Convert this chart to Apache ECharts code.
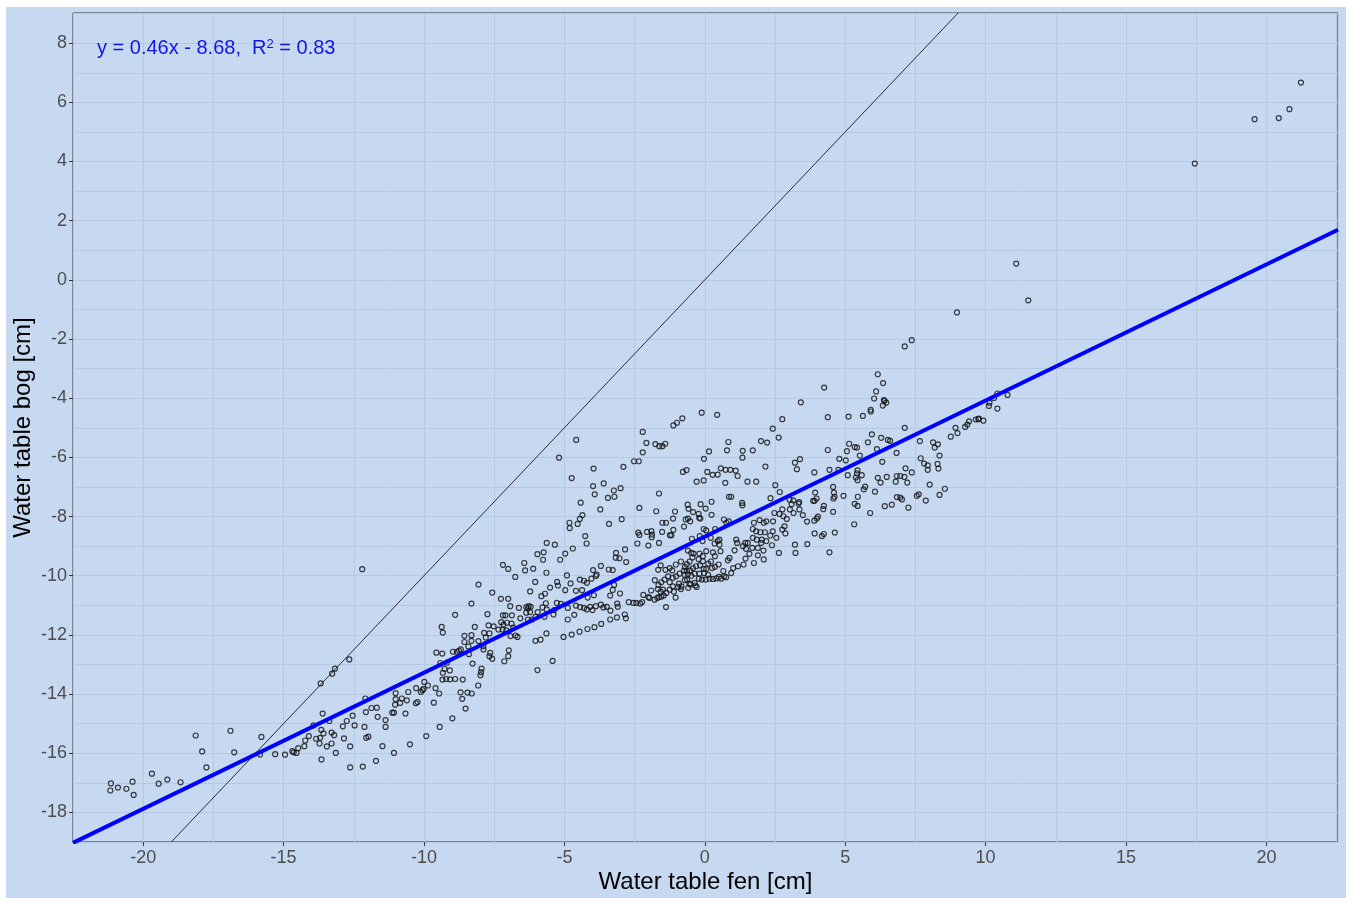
<!DOCTYPE html>
<html lang="en" style="height: 100%">
<head>
  <meta charset="utf-8">
</head>
<body style="height: 100%; margin: 0; background: #ffffff">
  <div id="container" style="position: absolute; left: 6px; top: 7px; width: 1340px; height: 891px; background: #c6d9f0"></div>

  <script type="text/javascript" src="https://cdn.jsdelivr.net/npm/echarts@6/dist/echarts.min.js"></script>
  <script type="text/javascript">
// axis ranges and tick labels
var xRange = [-22.5, 22.55];
var yRange = [-19, 9.02];
var xTicks = [-20, -15, -10, -5, 0, 5, 10, 15, 20];
var yTicks = [-18, -16, -14, -12, -10, -8, -6, -4, -2, 0, 2, 4, 6, 8];

// linear fit shown in the corner label
var fitSlope = 0.46;
var fitIntercept = -8.68;
var fitR2 = 0.83;

// water table pairs [fen, bog] in cm
var tailPts = [
  [-21.15,-17.02],[-21.17,-17.26],[-20.9,-17.16],[-20.6,-17.2],[-20.38,-16.96],[-20.34,-17.41],
  [-19.69,-16.69],[-19.45,-17.03],[-19.14,-16.89],[-18.67,-16.98],[-18.13,-15.4],[-17.9,-15.94],
  [-17.75,-16.48],[-16.89,-15.24],[-16.76,-15.97],[-15.79,-15.45],[-15.84,-16.04],[-15.3,-16.03],
  [-14.95,-16.05],[-12.2,-9.78],[-13.68,-13.64],[-13.27,-13.31],[-13.17,-13.14],[-12.66,-12.83]
];

var lowPts = [
  [-14.69,-15.93],[-14.64,-15.97],[-14.54,-15.99],[-14.48,-15.83],[-14.26,-15.76],[-14.23,-15.57],
  [-14.10,-15.42],[-13.93,-15.06],[-13.84,-15.51],[-13.72,-15.67],[-13.70,-15.48],[-13.66,-15.21],
  [-13.65,-16.21],[-13.61,-14.66],[-13.58,-15.33],[-13.46,-15.77],[-13.37,-14.91],[-13.29,-15.67],
  [-13.29,-15.30],[-13.20,-15.39],[-13.14,-15.99],[-12.89,-15.09],[-12.85,-15.50],[-12.75,-14.91],
  [-12.63,-15.77],[-12.63,-16.48],[-12.54,-14.73],[-12.47,-15.06],[-12.12,-15.11],[-12.18,-16.45],
  [-12.09,-14.15],[-12.07,-14.61],[-12.06,-15.48],[-11.98,-15.44],[-11.87,-14.47],[-11.71,-16.26],
  [-11.68,-14.46],[-11.65,-14.77],[-11.48,-15.76],[-11.37,-14.88],[-11.37,-15.11],[-11.13,-14.63],
  [-11.07,-14.63],[-11.07,-15.99],[-11.03,-14.36],[-11.01,-14.17],[-11.01,-13.97],[-10.85,-14.30],
  [-10.79,-14.15],[-10.66,-14.66],[-10.61,-14.21],[-10.56,-13.93],[-10.50,-15.70],[-10.29,-14.31],
  [-10.28,-13.80],[-10.23,-14.27],[-10.11,-13.93],[-10.05,-13.87],[-10.01,-13.82],[-9.99,-13.59],
  [-9.92,-15.42],[-9.86,-13.71],[-9.65,-14.29],[-9.59,-13.80],[-9.56,-12.60],[-9.46,-13.98],
  [-9.44,-15.11],[-9.42,-12.95],[-9.35,-12.63],[-9.34,-13.51],[-9.33,-13.28],[-9.27,-13.15],
  [-9.21,-13.49],[-9.18,-12.94],[-9.08,-13.20],[-9.07,-13.50],[-8.99,-14.82],[-8.97,-12.57],
  [-8.89,-11.32],[-8.89,-13.49],[-8.83,-12.57],[-8.75,-12.54],[-8.70,-13.94],[-8.69,-12.49],
  [-8.62,-13.51],[-8.64,-14.16],[-8.56,-12.03],[-8.56,-12.24],[-8.52,-14.49],[-8.45,-13.95],
  [-8.42,-12.39],[-8.40,-12.65],[-8.31,-12.20],[-8.31,-12.01],[-8.30,-13.98],[-8.27,-12.97],
  [-8.31,-10.94],[-8.06,-12.21],[-8.07,-13.71],[-9.37,-11.73],[-9.33,-11.92]
];

var midPts = [
  [-4.97,-9.25],[-5.96,-9.27],[-5.74,-9.21],[-3.16,-9.23],[-3.17,-9.39],[-3.04,-9.41],[-2.80,-9.54],
  [-7.19,-9.63],[-7.00,-9.77],[-6.43,-9.57],[-6.40,-9.82],[-6.11,-9.76],[-5.76,-9.46],[-5.15,-9.46],
  [-5.64,-9.90],[-3.70,-9.67],[-3.98,-9.81],[-3.42,-9.79],[-3.28,-9.81],[-6.75,-10.04],[-6.04,-10.21],
  [-5.26,-10.21],[-5.23,-10.33],[-4.91,-9.99],[-4.78,-10.26],[-4.45,-10.13],[-4.30,-10.17],[-4.20,-10.24],
  [-4.04,-10.10],[-3.88,-10.01],[-3.85,-9.96],[-8.06,-10.30],[-7.57,-10.57],[-6.22,-10.53],[-5.82,-10.69],
  [-5.69,-10.61],[-5.51,-10.40],[-4.97,-10.49],[-4.59,-10.51],[-4.37,-10.49],[-3.23,-10.31],[-3.28,-10.48],
  [-3.02,-10.60],[-3.37,-10.67],[-3.95,-10.66],[-4.17,-10.74],[-7.26,-10.78],[-7.00,-10.78],[-6.93,-11.03],
  [-6.62,-11.09],[-6.36,-11.06],[-6.30,-11.10],[-6.27,-11.03],[-6.20,-11.05],[-6.36,-11.25],[-6.22,-11.23],
  [-5.95,-11.23],[-5.78,-11.07],[-5.66,-10.93],[-5.63,-11.14],[-5.27,-10.92],[-5.12,-10.95],[-4.88,-11.09],
  [-4.59,-11.01],[-4.44,-11.06],[-4.30,-11.09],[-4.20,-11.14],[-4.08,-11.05],[-4.00,-11.16],[-3.88,-11.03],
  [-3.70,-10.98],[-3.61,-11.07],[-3.49,-11.05],[-3.36,-11.18],[-3.12,-10.94],[-3.10,-11.05],[-2.71,-10.89],
  [-2.85,-11.31],[-2.81,-11.44],[-3.13,-11.41],[-3.37,-11.48],[-3.69,-11.63],[-3.93,-11.74],[-4.18,-11.80],
  [-4.46,-11.89],[-4.74,-11.99],[-5.03,-12.07],[-4.88,-11.48],[-4.65,-11.32],[-6.03,-11.39],[-5.36,-11.16],
  [-5.39,-11.31],[-5.71,-11.39],[-6.16,-11.48],[-6.30,-11.48],[-6.57,-11.44],[-6.87,-11.34],[-7.10,-11.34],
  [-7.19,-11.34],[-7.25,-11.57],[-7.17,-11.65],[-7.05,-11.59],[-6.88,-11.62],[-6.82,-11.75],[-6.74,-12.02],
  [-6.67,-12.07],[-6.92,-12.04],[-7.07,-11.85],[-7.20,-11.82],[-7.70,-11.68],[-7.52,-11.71],[-7.35,-11.82],
  [-7.86,-11.93],[-7.80,-12.09],[-7.67,-11.95],[-7.74,-11.30],[-8.19,-11.73],[-5.64,-11.95],[-5.85,-12.16],
  [-6.03,-12.20],[-6.98,-12.52],[-7.00,-12.72],[-7.14,-12.89],[-7.57,-12.81],[-7.67,-12.72],[-7.64,-12.61],
  [-7.88,-12.49],[-7.89,-12.38],[-5.42,-12.88],[-5.96,-13.19],[-7.95,-13.14],[-7.97,-13.26],[-7.99,-13.36]
];

var upperPts = [
  [-5.19,-6.01],[-4.58,-5.41],[-4.74,-6.70],[-3.96,-6.38],[-3.98,-6.97],[-3.92,-7.25],[-3.60,-6.88],
  [-3.45,-7.37],[-3.24,-7.12],[-3.22,-7.33],[-3.00,-7.04],[-2.90,-6.32],[-4.42,-7.53],[-3.72,-7.76],
  [-4.36,-7.95],[-4.45,-8.08],[-4.53,-8.25],[-4.82,-8.21],[-4.81,-8.39],[-4.26,-8.66],[-4.21,-8.91],
  [-5.63,-8.89],[-5.34,-8.95],[-4.70,-9.08],[-3.41,-8.25],[-2.96,-8.09],[-2.52,-6.13],[-2.35,-6.13],
  [-2.21,-5.14],[-2.08,-5.51],[-2.21,-5.83],[-1.76,-5.55],[-1.62,-5.62],[-1.51,-5.62],[-1.41,-5.54],
  [-1.12,-4.92],[-0.99,-4.83],[-0.80,-4.68],[-0.11,-4.49],[0.44,-4.56],[0.15,-5.80],[-0.03,-6.05],
  [-0.78,-6.49],[-0.65,-6.43],[-0.29,-6.82],[-0.04,-6.78],[0.09,-6.49],[0.28,-6.59],[0.46,-6.58],
  [-1.63,-7.22],[-2.33,-7.71],[-1.73,-7.82],[-1.06,-7.83],[-1.13,-8.07],[-0.61,-7.60],[-0.58,-7.74],
  [-0.42,-7.85],[-0.15,-7.58],[0.03,-7.73],[0.24,-7.50],[-0.22,-7.91],[0.24,-7.94],[-0.68,-8.10],
  [-0.60,-8.07],[-0.52,-8.16],[-0.20,-8.04],[-0.16,-8.07],[-0.74,-8.34],[-1.12,-8.45],[-1.51,-8.21],
  [-1.38,-8.21],[-1.52,-8.52],[-2.06,-8.52],[-1.90,-8.49],[-1.88,-8.61],[-1.89,-8.70],[-2.37,-8.54],
  [-2.33,-8.62],[-1.24,-8.63],[-1.19,-8.63],[-1.63,-8.89],[-2.01,-8.98],[-2.40,-8.91],[-2.84,-9.11],
  [-0.46,-8.75],[-0.18,-8.66],[-0.04,-8.42],[0.05,-8.47],[0.21,-8.72],[0.35,-8.91],[0.46,-8.83],
  [0.37,-8.42],[-0.08,-8.83]
];

var corePts = [
  [0.73,-6.86],[0.86,-7.33],[0.94,-7.33],[1.33,-7.54],[1.34,-7.62],[1.52,-6.82],[1.83,-6.82],[2.51,-6.94],
  [2.67,-7.17],[2.34,-7.38],[3.02,-7.43],[3.15,-7.45],[3.09,-7.58],[3.34,-7.56],[3.37,-7.76],[3.16,-7.88],
  [3.03,-7.76],[2.76,-7.76],[2.66,-7.91],[2.80,-7.99],[2.92,-8.08],[2.48,-7.88],[2.43,-8.16],[2.19,-8.16],
  [2.10,-8.21],[1.95,-8.12],[1.75,-8.21],[1.71,-8.42],[1.83,-8.50],[1.98,-8.53],[2.14,-8.53],[2.33,-8.64],
  [2.42,-8.50],[2.84,-8.33],[2.76,-8.44],[2.87,-8.57],[2.55,-8.72],[2.19,-8.83],[2.03,-8.78],[2.01,-8.89],
  [1.89,-9.06],[1.85,-8.78],[1.71,-8.72],[1.53,-8.89],[1.44,-8.89],[1.36,-9.00],[1.12,-8.78],[1.15,-8.89],
  [1.06,-9.14],[1.47,-9.09],[1.69,-9.06],[2.09,-9.15],[2.39,-8.97],[2.64,-9.23],[3.21,-8.95],[3.23,-9.23],
  [2.10,-9.45],[1.75,-9.57],[1.45,-9.42],[1.38,-9.62],[1.18,-9.68],[0.88,-9.40],[0.82,-9.48],[0.94,-9.91],
  [0.69,-10.02],[0.58,-10.10],[0.76,-10.05],[0.66,-9.84],[0.49,-9.62],[1.01,-9.74],[1.59,-9.26],[1.89,-9.31],
  [0.77,-8.21],[0.85,-8.16],[0.68,-8.10],[0.52,-8.78],[0.52,-8.95],[0.56,-9.17],
  [-0.60,-9.15],[-0.48,-9.23],[-0.40,-9.25],[-0.19,-9.25],[-0.07,-9.34],[0.05,-9.17],[0.29,-9.21],[0.36,-9.34],
  [0.22,-9.52],[0.12,-9.59],[-0.07,-9.51],[-0.22,-9.44],[-0.44,-9.38],[-0.54,-9.52],[-0.64,-9.61],[-0.71,-9.70],
  [-0.85,-9.52],[-1.03,-9.62],[-1.16,-9.82],[-1.25,-9.74],[-1.40,-9.80],[-1.57,-9.65],[-1.66,-9.80],[-0.74,-9.83],
  [-0.64,-9.83],[-0.53,-9.82],[-0.42,-9.74],[-0.31,-9.68],[-0.17,-9.65],[-0.04,-9.77],[0.05,-9.77],[0.26,-9.74],
  [0.36,-9.70],[0.12,-9.97],[-0.03,-9.91],[-0.19,-9.93],[-0.36,-9.93],[-0.48,-10.00],[-0.60,-9.95],[-0.72,-9.97],
  [-0.90,-9.93],[-1.02,-10.02],[-1.14,-10.07],[-1.31,-10.02],[-1.43,-10.13],[-1.55,-10.22],[-1.65,-10.31],[-1.78,-10.15],
  [-1.25,-10.22],[-1.14,-10.36],[-0.92,-10.27],[-0.83,-10.36],[-0.71,-10.15],[-0.63,-10.13],[-0.54,-10.27],[-0.36,-10.24],
  [-0.34,-10.33],[-0.51,-10.30],[-0.21,-10.10],[-0.10,-10.13],[0.03,-10.13],[0.17,-10.10],[0.29,-10.11],[0.41,-10.09],
  [0.50,-10.04],[-1.25,-10.47],[-1.37,-10.58],[-1.46,-10.67],[-1.55,-10.71],[-1.63,-10.72],[-1.69,-10.75],[-1.79,-10.81],
  [-1.49,-10.47],[-1.67,-10.45],[-1.57,-10.54],[-1.91,-10.50],[-2.01,-10.72],[-2.19,-10.65],[-2.30,-10.94],[-2.44,-10.92],
  [-2.54,-10.92],[-2.23,-10.89],[-1.97,-10.75],[-1.38,-11.06],[-0.95,-10.38],[-1.10,-10.54],[-1.04,-10.74],[-0.29,-10.38],
  [-0.59,-10.41],[-0.85,-10.45]
];

var rightPts = [
  [6.16,-3.19],[6.35,-3.49],[6.10,-3.77],[6.03,-4.01],[6.38,-4.06],[6.46,-4.15],[6.34,-4.25],[6.40,-4.09],
  [5.91,-4.39],[5.91,-4.45],[5.63,-4.60],[5.12,-4.62],[4.38,-4.64],[4.25,-3.64],[3.42,-4.14],[2.76,-4.71],
  [2.63,-5.33],[7.12,-5.00],[5.95,-5.22],[6.28,-5.34],[6.52,-5.41],[6.60,-5.44],[5.81,-5.49],[5.14,-5.54],
  [5.34,-5.65],[5.42,-5.67],[5.06,-5.79],[5.52,-5.94],[6.13,-5.72],[6.83,-5.85],[4.38,-5.75],[7.66,-5.45],
  [8.13,-5.49],[8.30,-5.56],[8.19,-5.67],[8.36,-5.94],[8.76,-5.30],[9.00,-5.18],[8.93,-5.00],[9.27,-4.97],
  [9.35,-4.89],[9.41,-4.78],[9.65,-4.72],[9.74,-4.71],[7.69,-6.03],[7.81,-6.21],[7.94,-6.27],[8.29,-6.22],
  [8.32,-6.38],[7.94,-6.42],[7.15,-6.37],[7.37,-6.51],[7.21,-6.85],[6.96,-6.63],[6.84,-6.63],[6.80,-6.82],
  [7.11,-6.66],[6.48,-6.66],[6.16,-6.69],[6.26,-6.85],[6.32,-6.15],[5.44,-6.44],[5.42,-6.54],[5.38,-6.68],
  [5.59,-6.60],[5.44,-6.77],[5.09,-6.60],[5.02,-6.10],[4.79,-6.05],[4.76,-6.42],[4.44,-6.42],[3.90,-6.51],
  [3.21,-6.18],[3.39,-6.06],[3.28,-6.40],[4.57,-7.00],[4.60,-7.19],[4.62,-7.33],[4.58,-7.39],[4.94,-7.30],
  [5.45,-7.33],[5.71,-6.99],[5.66,-7.08],[6.06,-7.16],[5.44,-7.64],[5.34,-7.57],[6.41,-7.65],[6.66,-7.60],
  [6.84,-7.34],[6.96,-7.36],[7.02,-7.42],[7.25,-7.70],[7.55,-7.30],[7.62,-7.25],[7.87,-7.46],[8.01,-6.92],
  [8.36,-7.27],[8.55,-7.06],[5.89,-7.88],[5.32,-8.26],[4.57,-7.84],[4.24,-7.64],[4.22,-7.75],[3.93,-7.19],
  [3.86,-7.47],[3.91,-7.47],[3.98,-7.39],[4.24,-8.59],[3.91,-8.57],[4.17,-8.66],[4.63,-8.54],[3.49,-7.95],
  [3.64,-8.17],[3.90,-8.14],[3.99,-8.07],[4.03,-8.00],[3.36,-7.51],[0.84,-5.48],[0.79,-5.76],[1.35,-5.78],
  [1.71,-5.76],[2.00,-5.45],[2.22,-5.50],[2.42,-5.03],[2.16,-6.31],[1.34,-6.01],[0.74,-6.42],[0.91,-6.42],
  [0.57,-6.37],[1.10,-6.45],[1.17,-6.63],[4.44,-9.21],[3.65,-8.93]
];

var farPts = [
  [21.23,6.67],[20.82,5.77],[20.44,5.47],[19.58,5.43],[17.45,3.93],[11.09,0.55],[11.52,-0.69],[8.98,-1.10],
  [10.78,-3.89],[10.42,-3.84],[10.30,-3.99],[10.14,-4.15],[10.12,-4.26],[10.42,-4.35],[9.92,-4.76],[9.76,-4.69],
  [7.12,-2.25],[7.37,-2.04]
];

var points = [].concat(tailPts, lowPts, midPts, upperPts, corePts, rightPts, farPts);

var fitLine = xRange.map(function (x) { return [x, fitSlope * x + fitIntercept]; });
var oneToOne = [[yRange[0], yRange[0]], [yRange[1], yRange[1]]];

var dom = document.getElementById('container');
var myChart = echarts.init(dom, null, { renderer: 'canvas' });

var fontFamily = '"Liberation Sans", Arial, sans-serif';
var gridColor = '#b6c9e3';

var option = {
  animation: false,
  grid: {
    show: true,
    left: 67,
    top: 6,
    width: 1265,
    height: 829,
    containLabel: false,
    outerBoundsMode: 'none',
    borderColor: '#333333',
    borderWidth: 1,
    backgroundColor: 'transparent'
  },
  xAxis: [
    {
      type: 'value',
      min: xRange[0],
      max: xRange[1],
      position: 'bottom',
      name: 'Water table fen [cm]',
      nameLocation: 'middle',
      nameGap: 28,
      nameMoveOverlap: false,
      nameTextStyle: { fontSize: 24, color: '#000', fontFamily: fontFamily },
      axisLine: { show: false, onZero: false },
      axisTick: { show: true, customValues: xTicks, length: 4, lineStyle: { color: '#333' } },
      axisLabel: { customValues: xTicks, fontSize: 18, color: '#4d4d4d', margin: 7, fontFamily: fontFamily },
      splitLine: { show: false }
    },
    {
      type: 'value',
      min: xRange[0],
      max: xRange[1],
      interval: 2.5,
      axisLine: { show: false, onZero: false },
      axisTick: { show: false },
      axisLabel: { show: false },
      splitLine: { show: true, lineStyle: { color: gridColor, width: 1 } }
    }
  ],
  yAxis: [
    {
      type: 'value',
      min: yRange[0],
      max: yRange[1],
      position: 'left',
      name: 'Water table bog [cm]',
      nameLocation: 'middle',
      nameGap: 38,
      nameMoveOverlap: false,
      nameTextStyle: { fontSize: 24, color: '#000', fontFamily: fontFamily },
      axisLine: { show: false, onZero: false },
      axisTick: { show: true, customValues: yTicks, length: 4, lineStyle: { color: '#333' } },
      axisLabel: { customValues: yTicks, fontSize: 18, color: '#4d4d4d', margin: 6, fontFamily: fontFamily },
      splitLine: { show: false }
    },
    {
      type: 'value',
      min: yRange[0],
      max: yRange[1],
      interval: 1,
      axisLine: { show: false, onZero: false },
      axisTick: { show: false },
      axisLabel: { show: false },
      splitLine: { show: true, lineStyle: { color: gridColor, width: 1 } }
    }
  ],
  graphic: [
    {
      type: 'text',
      left: 91,
      top: 31,
      z: 10,
      style: {
        text: '{a|y = ' + fitSlope.toFixed(2) + 'x - ' + Math.abs(fitIntercept).toFixed(2) + ',  R}{s|2}{a| = ' + fitR2.toFixed(2) + '}',
        rich: {
          a: { fontSize: 20, fill: '#1414e6', fontFamily: fontFamily, verticalAlign: 'bottom' },
          s: { fontSize: 13, fill: '#1414e6', fontFamily: fontFamily, verticalAlign: 'top' }
        }
      }
    }
  ],
  series: [
    {
      type: 'scatter',
      xAxisIndex: 0,
      yAxisIndex: 0,
      data: points,
      symbol: 'circle',
      symbolSize: 5,
      itemStyle: { color: 'rgba(0,0,0,0)', borderColor: '#111', borderWidth: 1.2 },
      z: 2
    },
    {
      type: 'line',
      xAxisIndex: 0,
      yAxisIndex: 0,
      data: oneToOne,
      showSymbol: false,
      lineStyle: { color: '#000', width: 0.8 },
      z: 3
    },
    {
      type: 'line',
      xAxisIndex: 0,
      yAxisIndex: 0,
      data: fitLine,
      showSymbol: false,
      lineStyle: { color: '#0000ff', width: 4 },
      z: 4
    }
  ]
};

if (option && typeof option === 'object') {
  myChart.setOption(option);
}

window.addEventListener('resize', myChart.resize);
  </script>
</body>
</html>
